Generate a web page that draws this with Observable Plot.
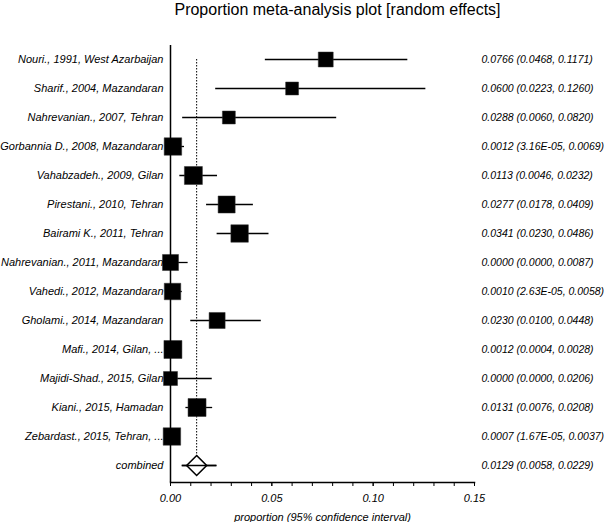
<!DOCTYPE html>
<html>
<head>
<meta charset="utf-8">
<script src="https://cdn.jsdelivr.net/npm/d3@7"></script>
<script src="https://cdn.jsdelivr.net/npm/@observablehq/plot@0.6"></script>
<style>
  html, body { margin: 0; padding: 0; background: #fff; overflow: hidden; }
  #title { width: 609px; height: 22px; box-sizing: border-box; padding-left: 66px; text-align: center;
    font-family: "Liberation Sans", Arial, sans-serif; font-size: 16px; line-height: 20px; color: #000; }
  #chart svg { display: block; }
</style>
</head>
<body>
<div id="title">Proportion meta-analysis plot [random effects]</div>
<div id="chart"></div>
<script>
const studies = [
  "Nouri., 1991, West Azarbaijan",
  "Sharif., 2004, Mazandaran",
  "Nahrevanian., 2007, Tehran",
  "Gorbannia D., 2008, Mazandaran",
  "Vahabzadeh., 2009, Gilan",
  "Pirestani., 2010, Tehran",
  "Bairami K., 2011, Tehran",
  "Nahrevanian., 2011, Mazandaran",
  "Vahedi., 2012, Mazandaran",
  "Gholami., 2014, Mazandaran",
  "Mafi., 2014, Gilan, ...",
  "Majidi-Shad., 2015, Gilan",
  "Kiani., 2015, Hamadan",
  "Zebardast., 2015, Tehran, ..."
];
const estimates = [0.0766, 0.0600, 0.0288, 0.0012, 0.0113, 0.0277, 0.0341, 0.0000, 0.0010, 0.0230, 0.0012, 0.0000, 0.0131, 0.0007];
const lowers    = [0.0468, 0.0223, 0.0060, 3.16e-5, 0.0046, 0.0178, 0.0230, 0.0000, 2.63e-5, 0.0100, 0.0004, 0.0000, 0.0076, 1.67e-5];
const uppers    = [0.1171, 0.1260, 0.0820, 0.0069, 0.0232, 0.0409, 0.0486, 0.0087, 0.0058, 0.0448, 0.0028, 0.0206, 0.0208, 0.0037];
const weights   = [6.0, 4.5, 4.5, 8.2, 8.7, 7.8, 8.2, 6.9, 7.3, 6.9, 8.7, 5.3, 8.7, 8.2];
const combinedLabel = "combined";
const combinedEstimate = 0.0129;
const combinedLower = 0.0058;
const combinedUpper = 0.0229;
const majorTicks = [0, 0.05, 0.10, 0.15];
const minorTicks = [0, 0.01, 0.02, 0.03, 0.04, 0.05, 0.06, 0.07, 0.08, 0.09, 0.10, 0.11, 0.12, 0.13, 0.14, 0.15];
const xLabel = "proportion (95% confidence interval)";

const fmt = v => (v > 0 && v < 0.0001)
  ? v.toExponential(2).toUpperCase().replace(/E-(\d)$/, "E-0$1")
  : v.toFixed(4);

const rows = studies.map((s, i) => ({
  study: s, est: estimates[i], lo: lowers[i], hi: uppers[i], w: weights[i],
  text: `${fmt(estimates[i])} (${fmt(lowers[i])}, ${fmt(uppers[i])})`
}));
const combined = [{
  study: combinedLabel, est: combinedEstimate, lo: combinedLower, hi: combinedUpper,
  text: `${fmt(combinedEstimate)} (${fmt(combinedLower)}, ${fmt(combinedUpper)})`
}];
const all = rows.concat(combined);

const chart = Plot.plot({
  width: 609,
  height: 500,
  marginLeft: 170,
  marginRight: 135,
  marginTop: 23,
  marginBottom: 40,
  style: { fontFamily: "'Liberation Sans', Arial, sans-serif", fontSize: "11px", fontStyle: "italic", color: "#000", background: "#fff" },
  x: { domain: [0, 0.15] },
  y: { type: "point", padding: 0, domain: all.map(d => d.study), insetTop: 10, insetBottom: 14 },
  r: { domain: [0, 8.7], range: [0, 10.16] },
  marks: [
    Plot.ruleX([combinedEstimate], { y1: [studies[0]], y2: [combinedLabel], x: d => d, stroke: "#000", strokeWidth: 1, strokeDasharray: "1.5,1.5" }),
    Plot.ruleY(all, { y: "study", x1: "lo", x2: "hi", stroke: "#000", strokeWidth: 1.3 }),
    Plot.dot(rows, { x: "est", y: "study", r: "w", symbol: "square", fill: "#000", stroke: "#333", strokeWidth: 0.5 }),
    Plot.dot(combined, { x: "est", y: "study", r: 9, symbol: "diamond2", fill: "#fff", stroke: "#000", strokeWidth: 1.6 }),
    Plot.ruleY(combined, { y: "study", x1: "lo", x2: "hi", stroke: "#000", strokeWidth: 1.3 }),
    Plot.ruleX([0], { stroke: "#000", strokeWidth: 1.5 }),
    Plot.frame({ anchor: "bottom", stroke: "#000", strokeWidth: 1.5 }),
    Plot.axisY({ tickSize: 0, tickPadding: 7, label: null, fontSize: 11 }),
    Plot.axisX({ ticks: minorTicks, tickFormat: () => "", tickSize: 4, label: null }),
    Plot.axisX({ ticks: majorTicks, tickFormat: d3.format(".2f"), tickSize: 4, tickPadding: 8, label: xLabel, labelAnchor: "center", labelArrow: "none", labelOffset: 38, fontSize: 11 }),
    Plot.text(all, { y: "study", text: "text", frameAnchor: "right", textAnchor: "start", dx: 7, fontSize: 10.5 })
  ]
});
document.getElementById("chart").appendChild(chart);
</script>
</body>
</html>
